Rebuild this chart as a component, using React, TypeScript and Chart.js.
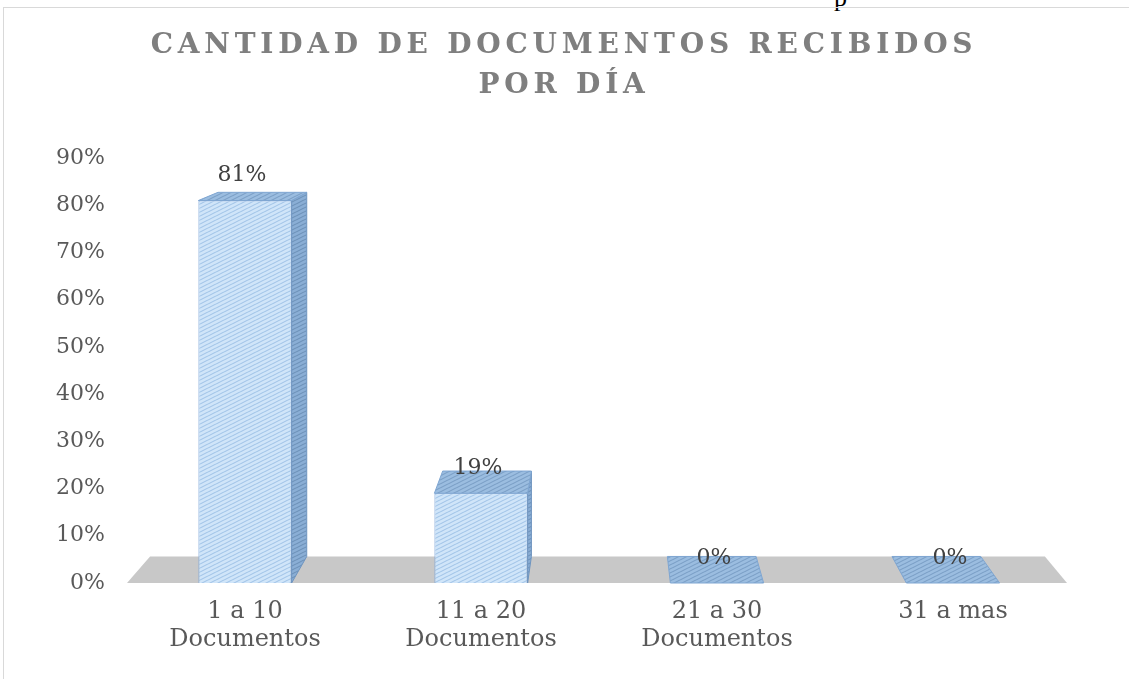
import React, { useEffect, useRef } from "react";
import { Chart, registerables } from "chart.js";

Chart.register(...registerables);

const categories: string[][] = [
  ["1 a 10", "Documentos"],
  ["11 a 20", "Documentos"],
  ["21 a 30", "Documentos"],
  ["31 a mas"],
];
const values: number[] = [0.81, 0.19, 0, 0];
const valueLabels: string[] = ["81%", "19%", "0%", "0%"];
const titleLines: string[] = ["CANTIDAD DE DOCUMENTOS RECIBIDOS", "POR DÍA"];
const yMax = 0.9;
const yStep = 0.1;

// perspective style
const VP = { x: 607, y: 30 };
const DEPTH = 0.048;
const SERIF = '"DejaVu Serif", serif';

function makePattern(ctx: CanvasRenderingContext2D, bg: string, fg: string) {
  const w = 8, h = 4;
  const c = document.createElement("canvas");
  c.width = w;
  c.height = h;
  const p = c.getContext("2d")!;
  p.fillStyle = bg;
  p.fillRect(0, 0, w, h);
  p.strokeStyle = fg;
  p.lineWidth = 1.1;
  p.beginPath();
  for (const off of [-h, 0, h]) {
    p.moveTo(0, h + off);
    p.lineTo(w, off);
  }
  p.stroke();
  return ctx.createPattern(c, "repeat")!;
}

export default function App() {
  const ref = useRef<HTMLCanvasElement | null>(null);

  useEffect(() => {
    const canvas = ref.current!;
    const ctx = canvas.getContext("2d")!;
    const frontPat = makePattern(ctx, "#d0e5f9", "#a3c5e8");
    const topPat = makePattern(ctx, "#9bbde0", "#7b9fc6");
    const sidePat = makePattern(ctx, "#8aaed5", "#6d91b9");

    const back = (x: number, y: number): [number, number] => [
      x + DEPTH * (VP.x - x),
      y + DEPTH * (VP.y - y),
    ];

    const poly = (c: CanvasRenderingContext2D, pts: [number, number][], fill: any, stroke: string) => {
      c.beginPath();
      c.moveTo(pts[0][0], pts[0][1]);
      for (let i = 1; i < pts.length; i++) c.lineTo(pts[i][0], pts[i][1]);
      c.closePath();
      c.fillStyle = fill;
      c.fill();
      c.strokeStyle = stroke;
      c.lineWidth = 1;
      c.stroke();
    };

    const threeD = {
      id: "threeD",
      beforeDatasetsDraw(chart: any) {
        const c = chart.ctx as CanvasRenderingContext2D;
        const { left, right } = chart.chartArea;
        const y0 = chart.scales.y.getPixelForValue(0);
        c.save();
        const a: [number, number] = [left, y0];
        const b: [number, number] = [right - 4, y0];
        c.beginPath();
        c.moveTo(a[0], a[1]);
        c.lineTo(b[0], b[1]);
        const bb = back(b[0], b[1]);
        const ab = back(a[0], a[1]);
        c.lineTo(bb[0], bb[1]);
        c.lineTo(ab[0], ab[1]);
        c.closePath();
        c.fillStyle = "#c8c8c8";
        c.fill();
        c.restore();
      },
      afterDatasetsDraw(chart: any) {
        const c = chart.ctx as CanvasRenderingContext2D;
        const meta = chart.getDatasetMeta(0);
        c.save();
        meta.data.forEach((el: any, i: number) => {
          const w = el.width;
          const L = el.x - w / 2;
          const R = el.x + w / 2;
          const top = el.y;
          const bottom = el.base;
          if (bottom - top > 0.5) {
            if (R < VP.x) {
              poly(c, [[R, top], [R, bottom], back(R, bottom), back(R, top)], sidePat, "#6f95c0");
            } else if (L > VP.x) {
              poly(c, [[L, top], [L, bottom], back(L, bottom), back(L, top)], sidePat, "#6f95c0");
            }
          }
          poly(c, [[L, top], [R, top], back(R, top), back(L, top)], topPat, "#7fa6d2");
          c.fillStyle = "#404040";
          c.font = `22px ${SERIF}`;
          c.textAlign = "center";
          c.textBaseline = "middle";
          c.fillText(valueLabels[i], el.x - 3, top - 25);
        });
        c.restore();
      },
      afterDraw(chart: any) {
        const c = chart.ctx as CanvasRenderingContext2D;
        c.save();
        c.fillStyle = "#7f7f7f";
        c.font = `bold 28px ${SERIF}`;
        c.textAlign = "center";
        c.textBaseline = "middle";
        (c as any).letterSpacing = "4.8px";
        titleLines.forEach((t, i) => c.fillText(t, 564, 46 + i * 40));
        c.restore();
      },
    };

    const chart = new Chart(canvas, {
      type: "bar",
      data: {
        labels: categories,
        datasets: [
          {
            data: values,
            backgroundColor: frontPat,
            borderColor: "#7ea6d8",
            borderWidth: 1,
            barPercentage: 0.395,
            categoryPercentage: 1,
          },
        ],
      },
      options: {
        animation: false,
        responsive: false,
        maintainAspectRatio: false,
        layout: { padding: { top: 158, right: 58, bottom: 0, left: 0 } },
        plugins: {
          legend: { display: false },
          title: { display: false },
          tooltip: { enabled: false },
        },
        scales: {
          x: {
            grid: { display: false, drawTicks: false },
            border: { display: false },
            ticks: {
              color: "#595959",
              font: { family: SERIF, size: 24, lineHeight: 1.2 },
              padding: 14,
              maxRotation: 0,
              autoSkip: false,
            },
            afterFit: (s: any) => {
              s.height = 96;
            },
          },
          y: {
            min: 0,
            max: yMax,
            grid: { display: false, drawTicks: false },
            border: { display: false },
            ticks: {
              stepSize: yStep,
              color: "#595959",
              font: { family: SERIF, size: 22 },
              padding: 22,
              callback: (v: any) => `${Math.round(Number(v) * 100)}%`,
            },
            afterFit: (s: any) => {
              s.width = 127;
            },
          },
        },
      },
      plugins: [threeD],
    });
    return () => chart.destroy();
  }, []);

  return (
    <div style={{ position: "fixed", left: 0, top: 0, width: 1129, height: 679, background: "#fff", overflow: "hidden" }}>
      <div style={{ position: "absolute", left: 834, top: -17, fontFamily: "'Liberation Serif', serif", fontSize: 26, color: "#000" }}>p</div>
      <div style={{ position: "absolute", left: 3, top: 7, width: 1140, height: 700, borderTop: "1px solid #d9d9d9", borderLeft: "1px solid #d9d9d9" }} />
      <canvas ref={ref} width={1129} height={679} style={{ position: "absolute", left: 0, top: 0, width: 1129, height: 679 }} />
    </div>
  );
}
